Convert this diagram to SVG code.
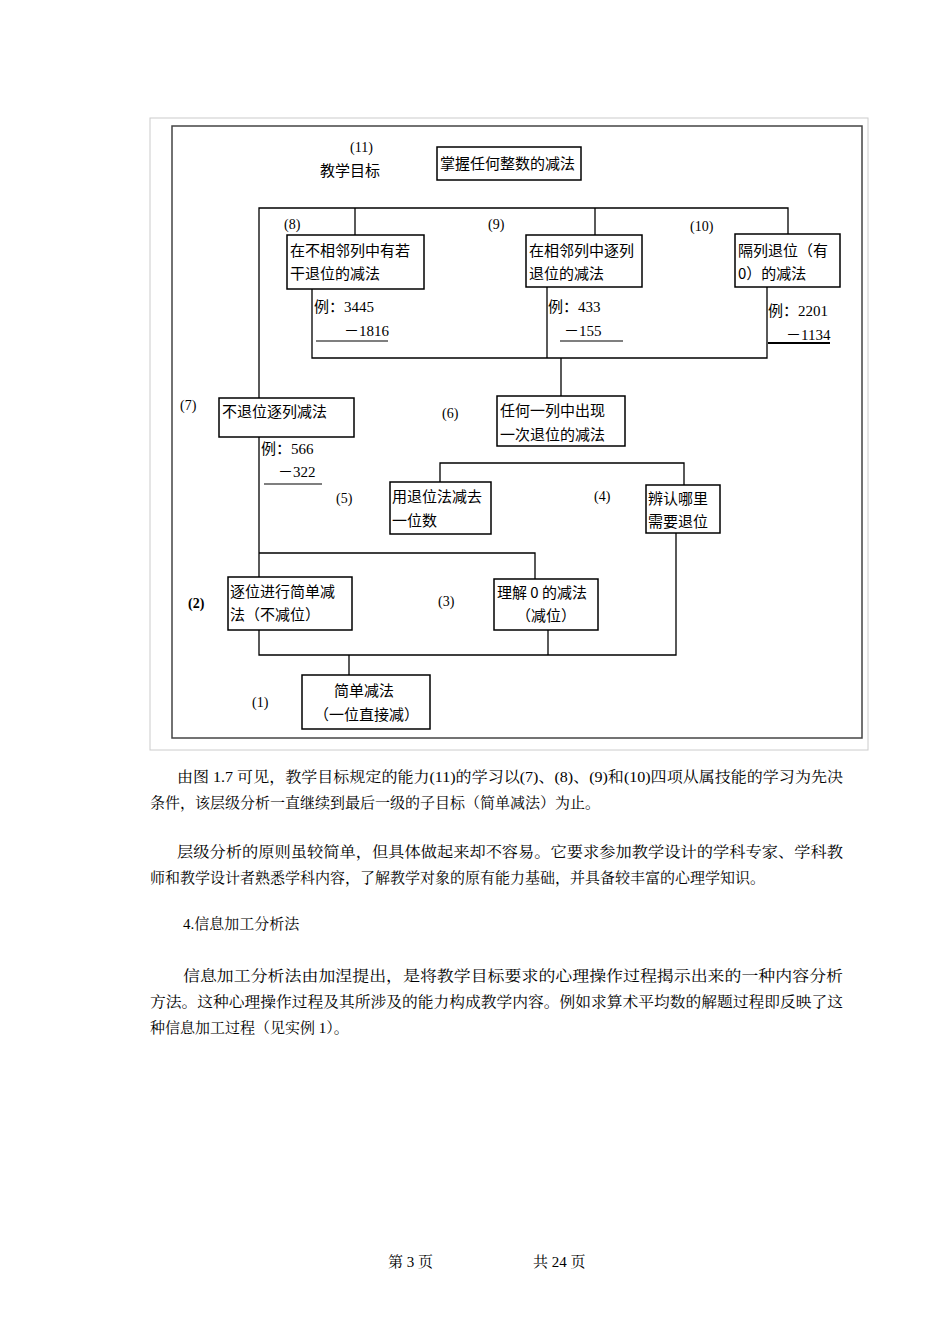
<svg xmlns="http://www.w3.org/2000/svg" width="950" height="1344" viewBox="0 0 950 1344">
<style>
.bx{fill:#fff;stroke:#000;stroke-width:1.5}
.ln{fill:none;stroke:#000;stroke-width:1.3}
.t{font-family:"Noto Sans CJK SC","Noto Sans",sans-serif;font-size:15px;fill:#000}
.n{font-family:"Liberation Serif","Noto Sans CJK SC",serif;font-size:14px;fill:#000}
.e{font-family:"Liberation Serif","Noto Sans CJK SC",serif;font-size:15px;fill:#000}
.p{font-family:"Liberation Serif","Noto Serif CJK SC","Noto Sans CJK SC",serif;font-size:15px;fill:#000}
</style>
<rect width="950" height="1344" fill="#fff"/>
<rect x="150" y="118" width="718" height="632" fill="none" stroke="#ccc" stroke-width="1"/>
<rect x="172" y="126" width="690" height="612" fill="none" stroke="#444" stroke-width="1.5"/>
<g id="connectors">
<polyline class="ln" points="259,398 259,208 788,208 788,234"/>
<line class="ln" x1="355" y1="208" x2="355" y2="235"/>
<line class="ln" x1="595" y1="208" x2="595" y2="235"/>
<polyline class="ln" points="312,289 312,358 767,358 767,287"/>
<line class="ln" x1="547" y1="287" x2="547" y2="358"/>
<line class="ln" x1="561" y1="358" x2="561" y2="396"/>
<polyline class="ln" points="440,482 440,463 684,463 684,485"/>
<line class="ln" x1="259" y1="437" x2="259" y2="577"/>
<polyline class="ln" points="259,553 535,553 535,579"/>
<polyline class="ln" points="259,630 259,655 676,655 676,533"/>
<line class="ln" x1="548" y1="630" x2="548" y2="655"/>
<line class="ln" x1="349" y1="655" x2="349" y2="675"/>
<line stroke="#000" stroke-width="1.2" x1="316" y1="341" x2="388" y2="341"/>
<line stroke="#000" stroke-width="1.2" x1="560" y1="341" x2="623" y2="341"/>
<line stroke="#000" stroke-width="2" x1="768" y1="343" x2="830" y2="343"/>
<line stroke="#000" stroke-width="1.2" x1="264" y1="484" x2="322" y2="484"/>
</g>
<g id="n11"><text class="n" x="350" y="152">(11)</text><text class="t" x="320" y="176">教学目标</text>
<rect class="bx" x="437" y="147" width="144" height="33"/><text class="t" x="440" y="169">掌握任何整数的减法</text></g>
<g id="n8"><text class="n" x="284" y="229">(8)</text><rect class="bx" x="287" y="235" width="137" height="54"/>
<text class="t" x="290" y="256">在不相邻列中有若</text><text class="t" x="290" y="279">干退位的减法</text>
<text class="e" x="314" y="312">例：3445</text><text class="e" x="344" y="336">－1816</text></g>
<g id="n9"><text class="n" x="488" y="229">(9)</text><rect class="bx" x="526" y="235" width="116" height="52"/>
<text class="t" x="529" y="256">在相邻列中逐列</text><text class="t" x="529" y="279">退位的减法</text>
<text class="e" x="548" y="312">例：433</text><text class="e" x="564" y="336">－155</text></g>
<g id="n10"><text class="n" x="690" y="231">(10)</text><rect class="bx" x="735" y="234" width="105" height="53"/>
<text class="t" x="738" y="256">隔列退位（有</text><text class="t" x="738" y="279">0）的减法</text>
<text class="e" x="768" y="316">例：2201</text><text class="e" x="786" y="340">－1134</text></g>
<g id="n7"><text class="n" x="180" y="410">(7)</text><rect class="bx" x="219" y="398" width="135" height="39"/>
<text class="t" x="222" y="417">不退位逐列减法</text>
<text class="e" x="261" y="454">例：566</text><text class="e" x="278" y="477">－322</text></g>
<g id="n6"><text class="n" x="442" y="418">(6)</text><rect class="bx" x="497" y="396" width="128" height="50"/>
<text class="t" x="500" y="416">任何一列中出现</text><text class="t" x="500" y="440">一次退位的减法</text></g>
<g id="n5"><text class="n" x="336" y="503">(5)</text><rect class="bx" x="390" y="482" width="101" height="52"/>
<text class="t" x="392" y="502">用退位法减去</text><text class="t" x="392" y="526">一位数</text></g>
<g id="n4"><text class="n" x="594" y="501">(4)</text><rect class="bx" x="646" y="485" width="74" height="48"/>
<text class="t" x="648" y="504">辨认哪里</text><text class="t" x="648" y="527">需要退位</text></g>
<g id="n2"><text class="n" x="188" y="608" font-weight="bold">(2)</text><rect class="bx" x="228" y="577" width="124" height="53"/>
<text class="t" x="230" y="597">逐位进行简单减</text><text class="t" x="230" y="620">法（不减位）</text></g>
<g id="n3"><text class="n" x="438" y="606">(3)</text><rect class="bx" x="494" y="579" width="104" height="51"/>
<text class="t" x="497" y="598">理解 0 的减法</text><text class="t" x="516" y="621">（减位）</text></g>
<g id="n1"><text class="n" x="252" y="707">(1)</text><rect class="bx" x="302" y="675" width="128" height="54"/>
<text class="t" x="334" y="696">简单减法</text><text class="t" x="314" y="720">（一位直接减）</text></g>
<g id="body">
<text class="p" x="177" y="782" textLength="666" lengthAdjust="spacingAndGlyphs">由图 1.7 可见，教学目标规定的能力(11)的学习以(7)、(8)、(9)和(10)四项从属技能的学习为先决</text>
<text class="p" x="150" y="808">条件，该层级分析一直继续到最后一级的子目标（简单减法）为止。</text>
<text class="p" x="177" y="857" textLength="666" lengthAdjust="spacingAndGlyphs">层级分析的原则虽较简单，但具体做起来却不容易。它要求参加教学设计的学科专家、学科教</text>
<text class="p" x="150" y="883">师和教学设计者熟悉学科内容，了解教学对象的原有能力基础，并具备较丰富的心理学知识。</text>
<text class="p" x="183" y="929">4.信息加工分析法</text>
<text class="p" x="183" y="981" textLength="660" lengthAdjust="spacingAndGlyphs">信息加工分析法由加涅提出，是将教学目标要求的心理操作过程揭示出来的一种内容分析</text>
<text class="p" x="150" y="1007" textLength="693" lengthAdjust="spacingAndGlyphs">方法。这种心理操作过程及其所涉及的能力构成教学内容。例如求算术平均数的解题过程即反映了这</text>
<text class="p" x="150" y="1033">种信息加工过程（见实例 1）。</text>
<text class="p" x="388" y="1267" font-size="13">第 3 页</text>
<text class="p" x="533" y="1267" font-size="13">共 24 页</text>
</g>
</svg>
